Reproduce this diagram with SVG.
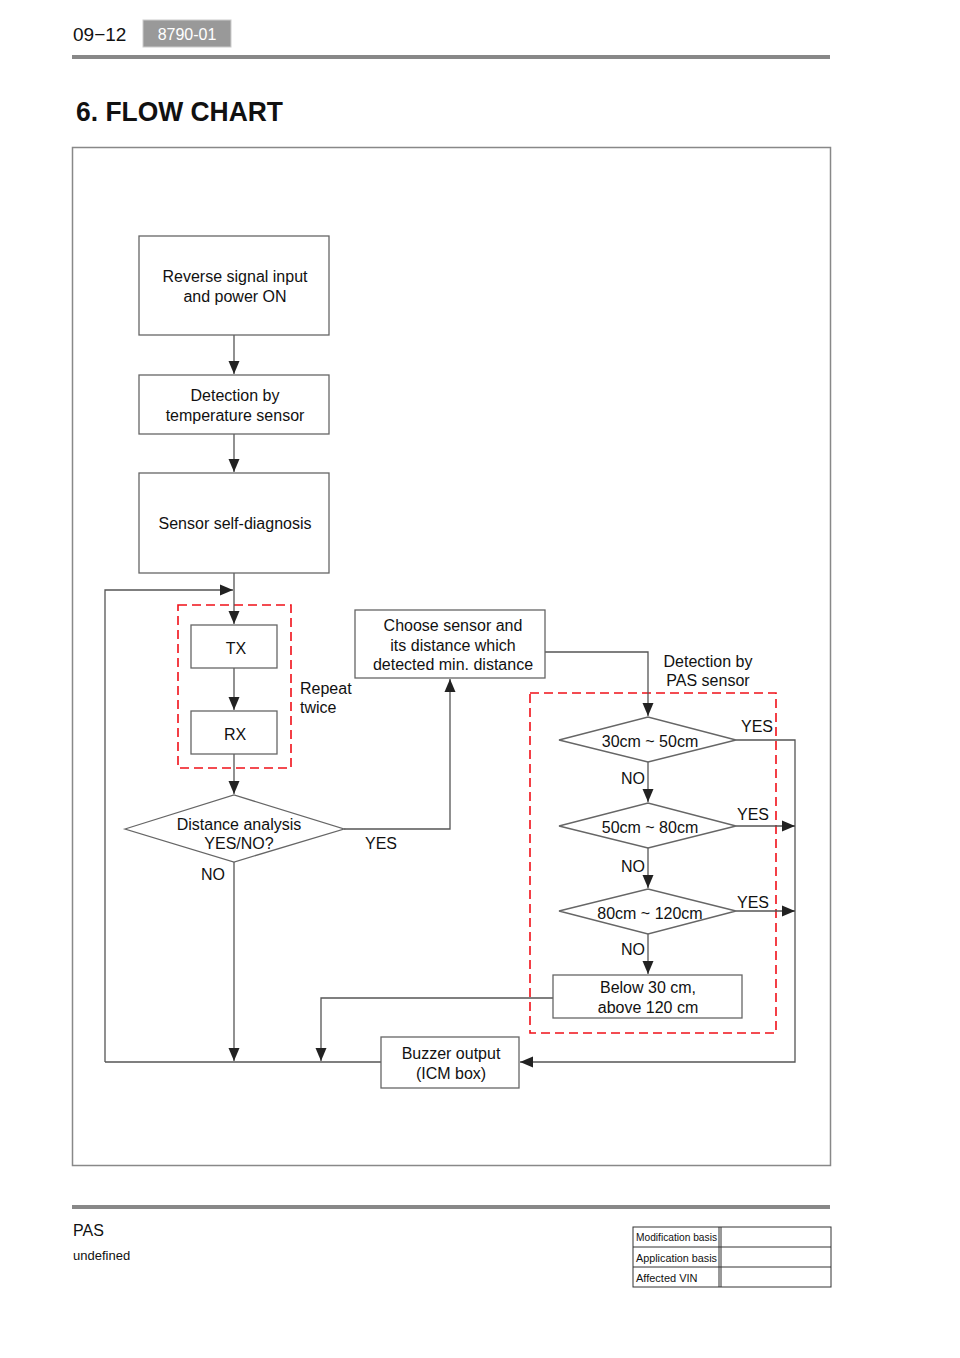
<svg xmlns="http://www.w3.org/2000/svg" width="960" height="1358" viewBox="0 0 960 1358">
<defs>
<marker id="ah" markerUnits="userSpaceOnUse" markerWidth="14" markerHeight="12" viewBox="0 0 14 12" refX="13" refY="6" orient="auto">
<path d="M0,0.5 L13,6 L0,11.5 Z" fill="#222"/>
</marker>
</defs>
<style>
text{font-family:"Liberation Sans",Arial,sans-serif;fill:#111;}
.t{font-size:16px;text-anchor:middle;}
.l{font-size:16px;}
.box{fill:#fff;stroke:#666;stroke-width:1.3;}
.c{fill:none;stroke:#555;stroke-width:1.3;}
.red{fill:none;stroke:#f01018;stroke-width:1.6;stroke-dasharray:9,5;}
.tb{font-size:11px;}
</style>
<rect width="960" height="1358" fill="#fff"/>
<!-- header -->
<text x="73" y="41" style="font-size:19px">09−12</text>
<rect x="143" y="20" width="88" height="27" fill="#999" stroke="#ccc" stroke-width="1"/>
<text x="187" y="40" style="font-size:16px;text-anchor:middle;fill:#fff">8790-01</text>
<rect x="72" y="55" width="758" height="4" fill="#888"/>
<text x="76" y="121" style="font-size:28px;font-weight:bold" textLength="207" lengthAdjust="spacingAndGlyphs">6. FLOW CHART</text>
<rect x="72.5" y="147.5" width="758" height="1018" fill="none" stroke="#888" stroke-width="1.5"/>

<!-- dashed groups -->
<rect x="178" y="605" width="113" height="163" class="red"/>
<rect x="530" y="693" width="246" height="340" class="red"/>

<!-- connectors -->
<g id="connectors">
<line x1="234" y1="335" x2="234" y2="374" class="c" marker-end="url(#ah)"/>
<line x1="234" y1="434" x2="234" y2="472" class="c" marker-end="url(#ah)"/>
<line x1="234" y1="573" x2="234" y2="624" class="c" marker-end="url(#ah)"/>
<polyline points="105,1062 105,590 233,590" class="c" marker-end="url(#ah)"/>
<line x1="234" y1="668" x2="234" y2="710" class="c" marker-end="url(#ah)"/>
<line x1="234" y1="754" x2="234" y2="794" class="c" marker-end="url(#ah)"/>
<polyline points="344,829 450,829 450,679" class="c" marker-end="url(#ah)"/>
<line x1="234" y1="862" x2="234" y2="1061" class="c" marker-end="url(#ah)"/>
<line x1="105" y1="1062" x2="381" y2="1062" class="c"/>
<polyline points="545,652 648,652 648,716" class="c" marker-end="url(#ah)"/>
<polyline points="736,740 795,740 795,1062 520,1062" class="c" marker-end="url(#ah)"/>
<line x1="648" y1="762" x2="648" y2="802" class="c" marker-end="url(#ah)"/>
<line x1="736" y1="826" x2="795" y2="826" class="c" marker-end="url(#ah)"/>
<line x1="648" y1="848" x2="648" y2="888" class="c" marker-end="url(#ah)"/>
<line x1="736" y1="911" x2="795" y2="911" class="c" marker-end="url(#ah)"/>
<line x1="648" y1="934" x2="648" y2="974" class="c" marker-end="url(#ah)"/>
<polyline points="553,998 321,998 321,1061" class="c" marker-end="url(#ah)"/>
</g>

<!-- nodes -->
<g id="n-reverse"><rect x="139" y="236" width="190" height="99" class="box"/>
<text x="235" y="282" class="t">Reverse signal input</text><text x="235" y="302" class="t">and power ON</text></g>
<g id="n-temp"><rect x="139" y="375" width="190" height="59" class="box"/>
<text x="235" y="401" class="t">Detection by</text><text x="235" y="421" class="t">temperature sensor</text></g>
<g id="n-selfdiag"><rect x="139" y="473" width="190" height="100" class="box"/>
<text x="235" y="529" class="t">Sensor self-diagnosis</text></g>
<g id="n-tx"><rect x="191" y="625" width="86" height="43" class="box"/>
<text x="236" y="654" class="t">TX</text></g>
<g id="n-rx"><rect x="191" y="711" width="86" height="43" class="box"/>
<text x="235" y="740" class="t">RX</text></g>
<g id="n-analysis"><polygon points="125,829 234,795 344,829 234,862" class="box"/>
<text x="239" y="830" class="t">Distance analysis</text><text x="239" y="849" class="t">YES/NO?</text></g>
<g id="n-choose"><rect x="355" y="610" width="190" height="68" class="box"/>
<text x="453" y="631" class="t">Choose sensor and</text><text x="453" y="651" class="t">its distance which</text><text x="453" y="670" class="t">detected min. distance</text></g>
<g id="n-d1"><polygon points="559,740 648,717 736,740 648,762" class="box"/>
<text x="650" y="747" class="t">30cm ~ 50cm</text></g>
<g id="n-d2"><polygon points="559,826 648,803 736,826 648,848" class="box"/>
<text x="650" y="833" class="t">50cm ~ 80cm</text></g>
<g id="n-d3"><polygon points="559,911 648,889 736,911 648,934" class="box"/>
<text x="650" y="919" class="t">80cm ~ 120cm</text></g>
<g id="n-below"><rect x="553" y="975" width="189" height="43" class="box"/>
<text x="648" y="993" class="t">Below 30 cm,</text><text x="648" y="1013" class="t">above 120 cm</text></g>
<g id="n-buzzer"><rect x="381" y="1037" width="138" height="51" class="box"/>
<text x="451" y="1059" class="t">Buzzer output</text><text x="451" y="1079" class="t">(ICM box)</text></g>

<!-- labels -->
<g id="labels">
<text x="300" y="694" class="l">Repeat</text><text x="300" y="713" class="l">twice</text>
<text x="365" y="849" class="l">YES</text>
<text x="201" y="880" class="l">NO</text>
<text x="708" y="667" class="t">Detection by</text><text x="708" y="686" class="t">PAS sensor</text>
<text x="741" y="732" class="l">YES</text>
<text x="737" y="820" class="l">YES</text>
<text x="737" y="908" class="l">YES</text>
<text x="645" y="784" class="l" style="text-anchor:end">NO</text>
<text x="645" y="872" class="l" style="text-anchor:end">NO</text>
<text x="645" y="955" class="l" style="text-anchor:end">NO</text>
</g>

<!-- footer -->
<rect x="72" y="1205" width="758" height="4" fill="#888"/>
<text x="73" y="1236" style="font-size:16px">PAS</text>
<text x="73" y="1260" style="font-size:13px">undefined</text>
<g id="table" fill="none" stroke="#333" stroke-width="1">
<rect x="633" y="1227" width="198" height="60"/>
<line x1="633" y1="1247" x2="831" y2="1247"/>
<line x1="633" y1="1267" x2="831" y2="1267"/>
<line x1="719" y1="1227" x2="719" y2="1287"/>
<line x1="721" y1="1227" x2="721" y2="1287"/>
</g>
<text x="636" y="1241" class="tb" textLength="81" lengthAdjust="spacingAndGlyphs">Modification basis</text>
<text x="636" y="1262" class="tb" textLength="81" lengthAdjust="spacingAndGlyphs">Application basis</text>
<text x="636" y="1282" class="tb">Affected VIN</text>
</svg>
